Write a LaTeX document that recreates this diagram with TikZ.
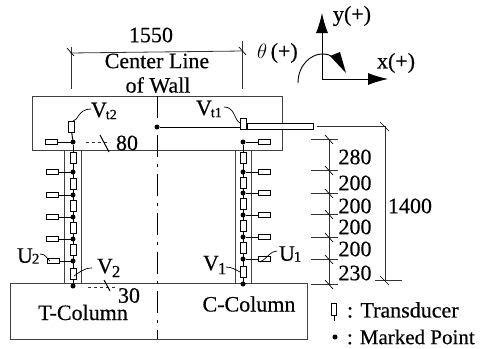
\documentclass[tikz,border=0pt]{standalone}
\usepackage{fontspec}
\setmainfont{Liberation Serif}[UprightFeatures={FakeBold=0.4}]
\usetikzlibrary{arrows.meta}
\tikzset{
  x=1pt,y=-1pt,
  every node/.style={inner sep=0pt,outer sep=0pt},
  struct/.style={draw=black!75,line width=0.9pt,fill=none},
  dimline/.style={draw=black!80,line width=0.8pt},
  tickmark/.style={draw=black,line width=0.7pt},
  trans/.style={draw=black,fill=white,line width=0.8pt,minimum width=6pt,minimum height=11pt},
  transh/.style={draw=black,fill=white,line width=0.8pt,minimum width=12pt,minimum height=5pt},
  mpoint/.style={circle,fill=black,minimum size=5pt},
  lab/.style={font=\fontsize{22}{24}\selectfont},
  bigarrow/.style={-{Latex[length=20pt,width=12pt]},line width=0.9pt}
}
\begin{document}
\begin{tikzpicture}
\useasboundingbox (0,0) rectangle (484,348);
% structure
\draw[struct] (32,96) rectangle (282,150);
\draw[struct] (64,150) -- (64,283) (81,150) -- (81,283);
\draw[struct] (235,150) -- (235,283) (251,150) -- (251,283);
\draw[struct] (10,283) rectangle (307,339);
% centre line
\coordinate (ct) at (157,96);
\coordinate (cb) at (157,339);
\draw[line width=0.9pt,dash pattern=on 22pt off 7pt on 3pt off 7pt] (ct) -- (cb);
% left column
\node[mpoint] (a0) at (73,142) {};
\node[mpoint] (a1) at (73,172) {};
\node[mpoint] (a2) at (73,195) {};
\node[mpoint] (a3) at (73,217) {};
\node[mpoint] (a4) at (73,239) {};
\node[mpoint] (a5) at (73,261) {};
\node[mpoint] (a6) at (73,286) {};
\draw[line width=1pt] (a0) -- (a6);
\node[trans] (vt2) at (71,127) {};
\draw[line width=1pt] (vt2) -- (a0);
\foreach \y in {158,184,206,228,250,274} \node[trans] at (73,\y) {};
\node[transh] (h0) at (51,142) {};
\node[transh] (h1) at (52,172) {};
\node[transh] (h2) at (52,195) {};
\node[transh] (h3) at (52,217) {};
\node[transh] (h4) at (52,239) {};
\node[transh] (h5) at (53,261) {};
\foreach \i in {0,...,5} \draw[line width=0.9pt] (h\i) -- (a\i);
% right column
\node[mpoint] (b0) at (243,142) {};
\node[mpoint] (b1) at (243,172) {};
\node[mpoint] (b2) at (243,193) {};
\node[mpoint] (b3) at (243,215) {};
\node[mpoint] (b4) at (243,237) {};
\node[mpoint] (b5) at (243,259) {};
\node[mpoint] (b6) at (243,284) {};
\draw[line width=1pt] (b0) -- (b6);
\foreach \y in {158,183,204,226,248,272} \node[trans] at (243,\y) {};
\node[transh] (k0) at (264,142) {};
\node[transh] (k1) at (264,172) {};
\node[transh] (k2) at (264,193) {};
\node[transh] (k3) at (264,215) {};
\node[transh] (k4) at (264,237) {};
\node[transh] (k5) at (264,259) {};
\foreach \i in {0,...,5} \draw[line width=0.9pt] (k\i) -- (b\i);
% Vt1 and beam
\node[mpoint] (cm) at (157,127) {};
\node[draw=black,fill=white,line width=0.8pt,minimum width=66pt,minimum height=6pt] (beam) at (280,126.5) {};
\node[trans] (vt1) at (243,124) {};
\draw[line width=0.9pt] (cm) -- (cm -| vt1.west);
% top dim
\coordinate (d1) at (71,89); \coordinate (d2) at (242,89);
\coordinate (d1b) at (71,47); \coordinate (d2b) at (242,41);
\draw[dimline] (d1b) -- (d1) (d2b) -- (d2);
\draw[dimline] (70,53) -- (243,51);
\draw[tickmark] (67,48) -- (74,56) (239,47) -- (246,55);
\node[lab] (t1550) at (151,35) {1550};
\node[lab,fill=white,inner ysep=1pt] (tcl) at (157,61) {Center Line};
\node[lab] (tow) at (158,85) {of Wall};
% Vt labels
\node[lab,anchor=west] (lvt2) at (91,111) {V\kern-1pt\raisebox{-2pt}{\fontsize{14}{14}\selectfont t2}};
\draw[line width=0.7pt] (91,109) .. controls (78,109) and (78,121) .. (73,121);
\node[lab,anchor=west] (lvt1) at (196,109) {V\kern-1pt\raisebox{-2pt}{\fontsize{14}{14}\selectfont t1}};
\draw[line width=0.7pt] (224,107) .. controls (235,107) and (234,120) .. (240,123);
% 80
\coordinate (e80a) at (86,142); \coordinate (e80b) at (110,142);
\draw[dimline,dashed] (e80a) -- (e80b);
\draw[tickmark,line width=1pt] (100,135) -- (109,152);
\node[lab] (t80) at (127,143) {80};
% axes
\coordinate (o) at (322,79);
\draw[bigarrow] (o) -- (322,13);
\draw[bigarrow] (o) -- (388,79);
\draw[line width=0.9pt] (298,83) .. controls (298,64) and (312,54) .. (322,54) .. controls (327,54) and (330,55) .. (333,57);
\fill (330,56) -- (340,52) -- (346,73) -- cycle;
\node[lab,anchor=west] (ty) at (333,16) {y(+)};
\node[lab,anchor=west] (tx) at (377,63) {x(+)};
\node[lab,anchor=west] (tth) at (257,53) {$\theta$\,(+)};
% right dims
\draw[dimline] (329,139) -- (329,284);
\foreach \y in {139,170,193,214,237,259,284}{
  \draw[dimline] (311,\y) -- (338,\y);
  \draw[tickmark] (325,\y-4) -- (333,\y+5);
}
\foreach \y/\t in {157/280,183/200,206/200,227/200,249/200,273/230}
  \node[lab] at (355,\y) {\t};
\draw[dimline] (317,126) -- (385,126);
\draw[dimline,line width=1pt] (385,126) -- (385,280);
\draw[dimline] (375,280) -- (402,280);
\draw[tickmark] (380,122) -- (389,131) (380,276) -- (389,285);
\node[lab] (t1400) at (410,206) {1400};
% U, V labels
\node[lab,anchor=west] (u2) at (17,256) {U\kern-1pt\raisebox{-1pt}{\fontsize{15}{15}\selectfont 2}};
\draw[line width=0.7pt] (40,254) .. controls (46,254) and (46,258) .. (50,261);
\node[lab,anchor=west] (u1) at (279,254) {U\kern-1pt\raisebox{-1pt}{\fontsize{15}{15}\selectfont 1}};
\draw[line width=0.7pt] (277,251) .. controls (270,251) and (268,258) .. (260,262);
\node[lab,anchor=west] (v2) at (97,268) {V\kern-1pt\raisebox{-4pt}{\fontsize{17}{17}\selectfont 2}};
\draw[line width=0.7pt] (92,268) .. controls (84,268) and (80,272) .. (74,276);
\node[lab,anchor=west] (v1) at (203,265) {V\kern-1pt\raisebox{-4pt}{\fontsize{17}{17}\selectfont 1}};
\draw[line width=0.7pt] (226,267) .. controls (232,267) and (236,270) .. (240,272);
% 30
\draw[dimline,dashed] (88,287) -- (116,287);
\draw[tickmark,line width=1pt] (104,280) -- (110,291);
\node[lab] (t30) at (129,295.5) {30};
% column labels
\node[lab] (tc) at (83,312.5) {T-Column};
\node[lab] (cc) at (249,304) {C-Column};
% legend
\node[trans,minimum height=12pt,minimum width=5pt] (lt) at (334,309) {};
\coordinate (ltb) at (334,321);
\draw[line width=0.9pt] (lt) -- (ltb);
\node[lab,anchor=west] (lt1) at (347,310) {: Transducer};
\node[mpoint] (lm) at (335,337) {};
\node[anchor=west,font=\fontsize{21}{24}\selectfont] (lt2) at (347,337) {: Marked Point};
\end{tikzpicture}
\end{document}
